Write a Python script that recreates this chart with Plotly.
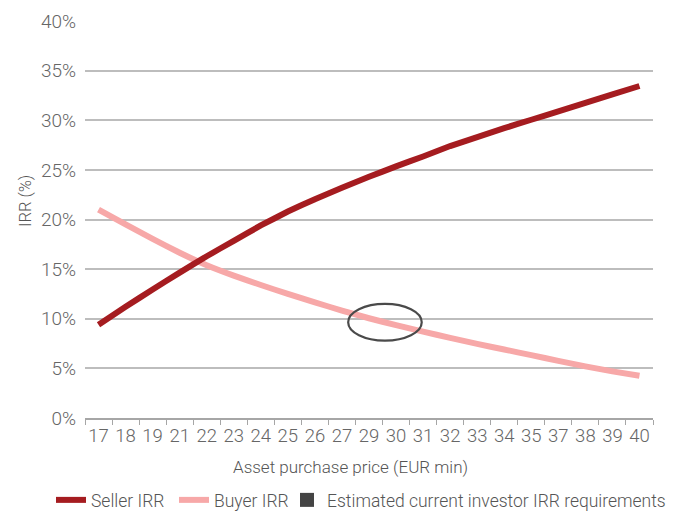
import plotly.graph_objects as go

# ---- data ----
price_labels = ["17", "18", "19", "21", "22", "23", "24", "25", "26", "27", "29",
                "30", "31", "32", "33", "34", "35", "37", "38", "39", "40"]
seller_irr = [9.4, 11.2, 12.95, 14.65, 16.3, 17.85, 19.4, 20.8, 22.05, 23.2, 24.3,
              25.35, 26.35, 27.4, 28.3, 29.2, 30.05, 30.9, 31.75, 32.6, 33.45]
buyer_irr = [21.0, 19.5, 18.05, 16.65, 15.4, 14.35, 13.4, 12.5, 11.65, 10.82, 10.05,
             9.35, 8.7, 8.07, 7.47, 6.9, 6.33, 5.76, 5.2, 4.7, 4.25]
y_ticks = [0, 5, 10, 15, 20, 25, 30, 35, 40]
y_tick_labels = [f"{v}%" for v in y_ticks]

FONT = "Roboto"
TICK_COL = "#666666"
TEXT_COL = "#555555"

fig = go.Figure()
fig.add_trace(go.Scatter(
    x=price_labels, y=buyer_irr, mode="lines", name="Buyer IRR",
    line=dict(color="#F7A8A8", width=6, shape="spline", smoothing=0.3),
    legend="legend2",
))
fig.add_trace(go.Scatter(
    x=price_labels, y=seller_irr, mode="lines", name="Seller IRR",
    line=dict(color="#A51C20", width=6, shape="spline", smoothing=0.3),
    legend="legend",
))
fig.add_trace(go.Scatter(
    x=[None], y=[None], mode="markers",
    name="Estimated current investor IRR requirements",
    marker=dict(symbol="square", size=14, color="#444444"),
    legend="legend3",
))

# highlight ellipse
fig.add_shape(type="circle", xref="x", yref="y",
              x0=9.23, x1=11.95, y0=7.79, y1=11.49,
              line=dict(color="#4a4a4a", width=2.2), fillcolor="rgba(0,0,0,0)")

L, R, T, B = 85, 33, 21, 96
PW, PH = 686 - L - R, 514 - T - B
legend_font = dict(size=17.5, color=TEXT_COL, family=FONT, weight=300)
leg_y = -(500 - (514 - B)) / PH


def leg(px):
    return dict(orientation="h", x=(px - L) / PW, xanchor="left", y=leg_y,
                yanchor="middle", font=legend_font, bgcolor="rgba(0,0,0,0)")


fig.update_layout(
    width=686, height=514,
    margin=dict(l=L, r=R, t=T, b=B, autoexpand=False),
    paper_bgcolor="white", plot_bgcolor="white",
    font=dict(family=FONT, color=TICK_COL, weight=300),
    showlegend=True,
    legend=leg(51),
    legend2=leg(174),
    legend3=leg(287),
    xaxis=dict(
        type="category", categoryorder="array", categoryarray=price_labels,
        range=[-0.5, 20.5], tickson="boundaries", ticks="outside", ticklen=5,
        tickcolor="#a6a6a6", showline=True, linecolor="#a6a6a6", linewidth=1.5,
        showgrid=False, tickangle=0, automargin=False,
        tickfont=dict(size=18.5, color=TICK_COL, family=FONT, weight=300),
    ),
    yaxis=dict(
        range=[0, 40], tickvals=y_ticks, ticktext=y_tick_labels,
        showgrid=True, gridcolor="#bdbdbd", gridwidth=1.5, zeroline=False,
        ticks="", ticklabelstandoff=8, automargin=False,
        tickfont=dict(size=19, color=TICK_COL, family=FONT, weight=300),
    ),
    annotations=[
        dict(text="Asset purchase price (EUR min)", xref="paper", yref="paper",
             x=(350 - L) / PW, y=-(467 - 418) / PH, xanchor="center", yanchor="middle",
             showarrow=False, font=dict(size=17, color=TEXT_COL, family=FONT, weight=300)),
        dict(text="IRR (%)", xref="paper", yref="paper",
             x=-(L - 25) / PW, y=(418 - 201) / PH, xanchor="center", yanchor="middle",
             textangle=-90, showarrow=False,
             font=dict(size=16.5, color=TEXT_COL, family=FONT, weight=300)),
    ],
)

fig.write_html("out.html")
